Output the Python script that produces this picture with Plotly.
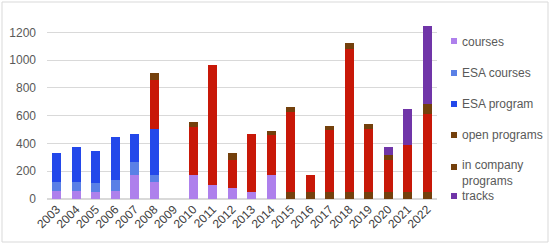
import plotly.graph_objects as go

# ---- data ----
years = [str(y) for y in range(2003, 2023)]

courses        = [55, 55, 50, 55, 170, 120, 0, 173, 100, 77, 50, 173, 0, 0, 0, 0, 0, 0, 0, 0]
esa_courses    = [70, 70, 65, 82, 100, 55, 0, 0, 0, 0, 0, 0, 0, 0, 0, 0, 0, 0, 0, 0]
esa_program    = [205, 247, 230, 311, 202, 326, 0, 0, 0, 0, 0, 0, 0, 0, 0, 0, 0, 0, 0, 0]
open_programs  = [0, 0, 0, 0, 0, 0, 0, 0, 0, 0, 0, 0, 48, 48, 48, 48, 48, 48, 50, 50]
in_company     = [0, 0, 0, 0, 0, 355, 0, 347, 864, 204, 415, 287, 576, 125, 448, 1036, 460, 233, 338, 566]
in_company_cap = [0, 0, 0, 0, 0, 53, 0, 36, 0, 48, 0, 31, 36, 0, 29, 43, 29, 36, 0, 72]
tracks         = [0, 0, 0, 0, 0, 0, 0, 0, 0, 0, 0, 0, 0, 0, 0, 0, 0, 59, 264, 557]

y_ticks = [0, 200, 400, 600, 800, 1000, 1200]

C_COURSES = '#ae80ec'
C_ESA_C = '#5a80e6'
C_ESA_P = '#2348ea'
C_BROWN = '#74400c'
C_RED = '#c81808'
C_TRACKS = '#7035a8'

legend_names = ['courses', 'ESA courses', 'ESA program', 'open programs',
                'in company<br>programs', 'tracks']
legend_colors = [C_COURSES, C_ESA_C, C_ESA_P, C_BROWN, C_BROWN, C_TRACKS]
legend_text_px = [42, 72.5, 104, 135, 173, 196]   # pixel rows of the legend texts
legend_box_px = [41, 73, 104, 135, 167, 196]      # pixel rows of the swatches

# plot area in pixels
L, R, T, B = 47, 437, 20, 199
W, H = 550, 245


def px_x(x):
    return (x - L) / (R - L)


def px_y(y):
    return (B - y) / (B - T)


fig = go.Figure()
series = [
    (courses, 'courses', C_COURSES),
    (esa_courses, 'ESA courses', C_ESA_C),
    (esa_program, 'ESA program', C_ESA_P),
    (open_programs, 'open programs', C_BROWN),
    (in_company, 'in company programs', C_RED),
    (in_company_cap, 'in company programs', C_BROWN),
    (tracks, 'tracks', C_TRACKS),
]
for vals, name, col in series:
    fig.add_bar(x=years, y=vals, name=name, marker_color=col, marker_line_width=0)

# legend drawn by hand: small squares right next to the labels
shapes = [dict(type='rect', xref='paper', yref='paper',
               x0=px_x(2), x1=px_x(548), y0=px_y(242), y1=px_y(2),
               line=dict(color='#d9d9d9', width=1), layer='below')]
annotations = []
for name, col, ty, by in zip(legend_names, legend_colors, legend_text_px, legend_box_px):
    shapes.append(dict(type='rect', xref='paper', yref='paper',
                       x0=px_x(451), x1=px_x(457), y0=px_y(by + 3), y1=px_y(by - 3),
                       fillcolor=col, line=dict(width=0)))
    annotations.append(dict(text=name, xref='paper', yref='paper',
                            x=px_x(460), y=px_y(ty), xanchor='left', yanchor='middle',
                            align='left', showarrow=False,
                            font=dict(size=12, color='#595959')))

fig.update_layout(
    barmode='stack',
    bargap=0.56,
    width=W, height=H,
    margin=dict(l=L, r=W - R, t=T, b=H - B, autoexpand=False),
    paper_bgcolor='white',
    plot_bgcolor='white',
    showlegend=False,
    font=dict(family='Liberation Sans, Arial', size=12, color='#595959'),
    shapes=shapes,
    annotations=annotations,
)

fig.update_xaxes(tickangle=-45, showgrid=False, showline=False, ticks='',
                 tickfont=dict(size=12, color='#404040'))
fig.update_yaxes(range=[0, 1290], tickvals=y_ticks, showgrid=True, gridcolor='#d9d9d9',
                 zeroline=True, zerolinecolor='#d9d9d9', showline=False, ticks='',
                 ticklabelstandoff=10, tickfont=dict(size=12, color='#595959'))

fig.write_html('out.html', config={'displayModeBar': False},
               post_script="document.body.style.margin='0';")
